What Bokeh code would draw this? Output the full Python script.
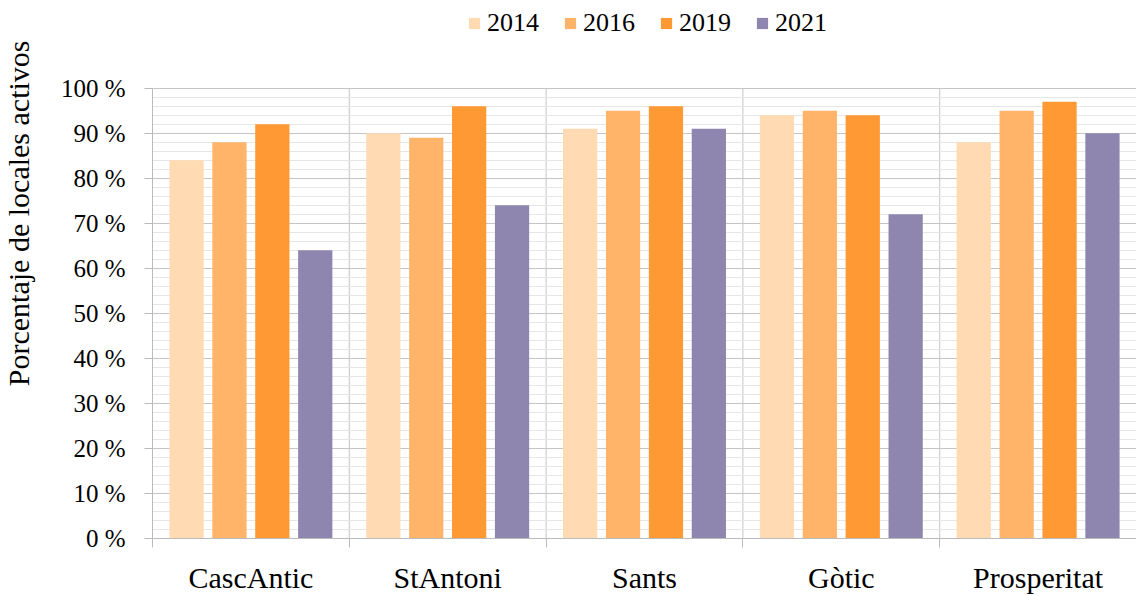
from bokeh.plotting import figure
from bokeh.models import (Range1d, FixedTicker, SingleIntervalTicker, PrintfTickFormatter,
                          Legend, LegendItem, Title, ColumnDataSource)
from bokeh.transform import dodge
from bokeh.embed import file_html
from bokeh.resources import INLINE

categories = ["CascAntic", "StAntoni", "Sants", "Gòtic", "Prosperitat"]
years = ["2014", "2016", "2019", "2021"]
v2014 = [84, 90, 91, 94, 88]
v2016 = [88, 89, 95, 95, 95]
v2019 = [92, 96, 96, 94, 97]
v2021 = [64, 74, 91, 72, 90]
colors = ["#FFDAB2", "#FFB469", "#FF9933", "#8E86AE"]
y_max = 100

FONT = "Liberation Serif"

xc = [i + 0.5 for i in range(len(categories))]
bounds_x = list(range(len(categories) + 1))
src = ColumnDataSource(dict(x=xc, v2014=v2014, v2016=v2016, v2019=v2019, v2021=v2021))

# frame spans the whole height above the x axis; the 0-100 scale takes its lower 452 px
frame_h = 540
scale_h = 452
p = figure(width=1136, height=596, output_backend="svg", toolbar_location=None,
           x_range=Range1d(0, 5), y_range=Range1d(0, y_max * frame_h / scale_h),
           min_border_left=151, min_border_top=0, min_border_right=0, min_border_bottom=56)
p.outline_line_color = None
p.background_fill_color = "white"

# category separators
p.segment(x0=bounds_x, y0=[0] * len(bounds_x), x1=bounds_x, y1=[y_max] * len(bounds_x),
          line_color="#C4C4C4", line_width=1, level="underlay")

offsets = [-0.327, -0.109, 0.109, 0.327]
renderers = []
for yr, col, off in zip(years, colors, offsets):
    r = p.vbar(x=dodge("x", off, range=p.x_range), top="v" + yr, width=0.174,
               source=src, fill_color=col, line_color=None)
    renderers.append(r)

# y axis
p.yaxis.ticker = SingleIntervalTicker(interval=10, num_minor_ticks=5)
p.yaxis.bounds = (0, y_max)
p.yaxis.formatter = PrintfTickFormatter(format="%d %%")
p.yaxis.major_label_text_font = FONT
p.yaxis.major_label_text_font_size = "25px"
p.yaxis.major_label_text_color = "black"
p.yaxis.major_label_standoff = 19
p.yaxis.major_tick_out = 8
p.yaxis.major_tick_in = 0
p.yaxis.minor_tick_out = 0
p.yaxis.minor_tick_in = 0
p.yaxis.axis_line_color = "#BBBBBB"
p.yaxis.major_tick_line_color = "#BBBBBB"

p.ygrid.grid_line_color = "#C4C4C4"
p.ygrid.minor_grid_line_color = "#E6E6E6"
p.ygrid.ticker = SingleIntervalTicker(interval=10, num_minor_ticks=5)
p.ygrid.bounds = (0, y_max)

# x axis
p.xaxis.ticker = FixedTicker(ticks=xc, minor_ticks=bounds_x)
p.xaxis.major_label_overrides = {x: c for x, c in zip(xc, categories)}
p.xaxis.major_label_text_font = FONT
p.xaxis.major_label_text_font_size = "30px"
p.xaxis.major_label_text_color = "black"
p.xaxis.major_label_standoff = 13
p.xaxis.major_tick_out = 0
p.xaxis.major_tick_in = 0
p.xaxis.minor_tick_out = 9
p.xaxis.minor_tick_in = 0
p.xaxis.minor_tick_line_color = "#BBBBBB"
p.xaxis.axis_line_color = "#BBBBBB"
p.xgrid.grid_line_color = None

# spacer between tick labels and the y axis title
p.add_layout(Title(text=" ", text_font_size="1px", standoff=17), "left")
# y axis title
p.add_layout(Title(text="Porcentaje de locales activos", align="right", offset=40,
                   vertical_align="top", standoff=2,
                   text_font=FONT, text_font_size="30px", text_font_style="normal",
                   text_color="black"), "left")

legend = Legend(items=[LegendItem(label=y, renderers=[r]) for y, r in zip(years, renderers)],
                orientation="horizontal", location=(315, 500),
                label_text_font=FONT, label_text_font_size="26px", label_text_color="black",
                glyph_width=14, glyph_height=14, label_standoff=6, spacing=24,
                border_line_color=None, background_fill_alpha=0, padding=0, margin=0)
p.add_layout(legend, "center")

open("out.html", "w").write(file_html(p, INLINE))
